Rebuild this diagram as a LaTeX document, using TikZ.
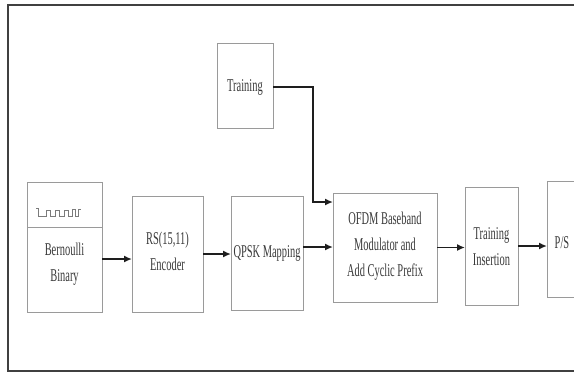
\documentclass[tikz,border=0pt]{standalone}
\usepackage{fontspec}
\setmainfont{Liberation Serif}
\usetikzlibrary{arrows.meta}
\definecolor{boxc}{HTML}{9A9A9A}
\definecolor{txtc}{HTML}{3A3A3A}
\definecolor{framec}{HTML}{404040}
\definecolor{arrc}{HTML}{1E1E1E}
\tikzset{
  blk/.style={draw=boxc, line width=0.9pt, inner sep=0pt, outer sep=0pt, fill=white},
  lbl/.style={font=\fontsize{18}{26}\selectfont, xscale=0.58, align=center, text=txtc, inner sep=0pt},
  arr/.style={draw=arrc, line width=1.8pt, -{Latex[length=8pt,width=7pt]}},
  frm/.style={draw=framec, line width=2.5pt},
  wave/.style={draw=boxc!80!black, line width=0.9pt}
}
\begin{document}
\begin{tikzpicture}[x=1pt,y=-1pt]
\useasboundingbox (0,0) rectangle (574,376);
\clip (0,0) rectangle (574,376);
\fill[white] (0,0) rectangle (574,376);
% outer frame
\draw[frm] (620,5) -- (8,5) -- (8,371) -- (620,371);
% blocks
\node[blk, minimum width=75pt, minimum height=130pt] (bern) at (64.5,247) {};
\node[blk, minimum width=71pt, minimum height=116pt] (rs) at (167.5,254) {};
\node[blk, minimum width=72pt, minimum height=114pt] (qpsk) at (267,253) {};
\node[blk, minimum width=104pt, minimum height=109pt] (ofdm) at (385,247.5) {};
\node[blk, minimum width=53pt, minimum height=118pt] (ti) at (491.5,246) {};
\node[blk, minimum width=60pt, minimum height=116pt] (ps) at (577,239) {};
\node[blk, minimum width=56pt, minimum height=85pt] (train) at (245,85.5) {};
% Bernoulli divider and waveform
\draw[blk] ([yshift=-45pt]bern.north west) -- ([yshift=-45pt]bern.north east);
\draw[wave] (36,208) -- (38,208) -- (38,216) -- (46,216) -- (46,210) -- (50,210) -- (50,216)
  -- (55,216) -- (55,210) -- (59,210) -- (59,216) -- (64,216) -- (64,210) -- (68,210) -- (68,216)
  -- (72,216) -- (72,209) -- (75,209) -- (75,216) -- (78,216) -- (78,209) -- (81,209);
% labels
\node[lbl] (tbern) at (64.5,264) {Bernoulli\\Binary};
\node[lbl] (trs) at (167.5,251.5) {RS(15,11)\\Encoder};
\node[lbl] (tqpsk) at (267,253) {QPSK Mapping};
\node[lbl] (tofdm) at (385,246.5) {OFDM Baseband\\Modulator and\\Add Cyclic Prefix};
\node[lbl] (tti) at (491.5,246.5) {Training\\Insertion};
\node[lbl] (tps) at (562,243) {P/S};
\node[lbl] (ttrain) at (245,87) {Training};
% connectors
\draw[arr] ([yshift=-12pt]bern.east) -- ([yshift=-5pt]rs.west);
\draw[arr] (rs.east) -- (rs.east -| qpsk.west);
\draw[arr] ([yshift=6pt]qpsk.east) -- ([yshift=6pt]qpsk.east -| ofdm.west);
\draw[arr] (ofdm.east) -- (ofdm.east -| ti.west);
\draw[arr] (ti.east) -- (ti.east -| ps.west);
\draw[arr] ([yshift=-1.5pt]train.east) -| ([xshift=-20pt,yshift=45.5pt]ofdm.west) -- ([yshift=45.5pt]ofdm.west);
\end{tikzpicture}
\end{document}
